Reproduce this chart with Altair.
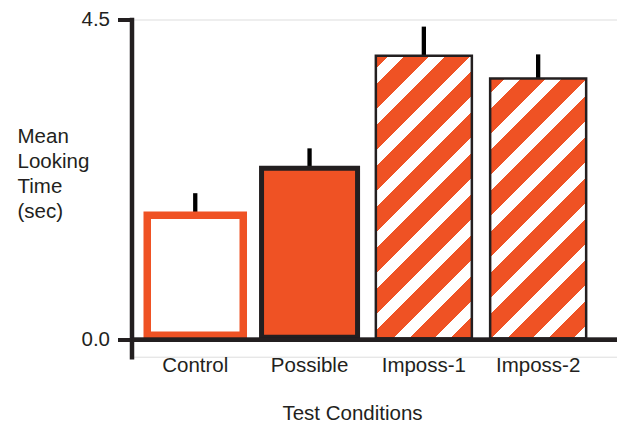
import altair as alt
import pandas as pd

# ---- data ----
categories = ["Control", "Possible", "Imposs-1", "Imposs-2"]
means = [1.75, 2.41, 3.99, 3.67]
err_tops = [2.06, 2.69, 4.40, 4.01]

df = pd.DataFrame({"cond": categories, "mean": means, "err": err_tops})

# ---- styling ----
ORANGE = "#EF5224"
BLACK = "#231F20"
FONT = "Liberation Sans"
FS = 20.5

PLOT_W = 485.5
PLOT_H = 337.2
Y_MIN, Y_MAX = -0.237, 4.5
PXU = PLOT_H / (Y_MAX - Y_MIN)
BAND_W = 96.0


def stripe_gradient(value, y2off, white_start=13.0, white_w=16.0, period=41.0):
    W = BAND_W
    H = value * PXU + y2off
    k = (W + H) / (W * W + H * H)
    total = W + H
    stops = [{"offset": 0.0, "color": ORANGE}]
    c = white_start
    while c < total:
        a = c / total
        b = min((c + white_w) / total, 1.0)
        stops.append({"offset": a, "color": ORANGE})
        stops.append({"offset": a, "color": "white"})
        stops.append({"offset": b, "color": "white"})
        if b < 1.0:
            stops.append({"offset": b, "color": ORANGE})
        c += period
    return alt.LinearGradient(
        gradient="linear", x1=0, y1=0, x2=k * W, y2=k * H, stops=stops
    )


x_scale = alt.Scale(paddingInner=0.16, paddingOuter=0.2038, align=0.338)
y_scale = alt.Scale(domain=[Y_MIN, Y_MAX], nice=False, zero=False)

x_enc = alt.X(
    "cond:N",
    sort=categories,
    scale=x_scale,
    axis=alt.Axis(
        title="Test Conditions",
        domain=False,
        ticks=False,
        tickSize=0,
        labelAngle=0,
        labelAlign="center",
        labelFontSize=FS,
        labelFont=FONT,
        labelColor=BLACK,
        labelBaseline="alphabetic",
        labelPadding=14.8,
        titleFontSize=FS,
        titleFont=FONT,
        titleFontWeight="normal",
        titleColor=BLACK,
        titleBaseline="alphabetic",
        titleAlign="center",
        titleX=220.5,
        titleY=62.5,
    ),
)

y_enc = alt.Y(
    "mean:Q",
    scale=y_scale,
    axis=alt.Axis(
        title=["Mean", "Looking", "Time", "(sec)"],
        values=[0, 4.5],
        format=".1f",
        grid=False,
        domainWidth=4.5,
        domainColor=BLACK,
        domainCap="square",
        tickSize=14,
        tickWidth=4,
        tickColor=BLACK,
        labelFontSize=FS,
        labelFont=FONT,
        labelColor=BLACK,
        labelPadding=8,
        titleAngle=0,
        titleAlign="left",
        titleBaseline="alphabetic",
        titleX=-114.5,
        titleY=123,
        titleLineHeight=25,
        titleFontSize=FS,
        titleFont=FONT,
        titleFontWeight="normal",
        titleColor=BLACK,
    ),
)

base = alt.Chart(df)
x_plain = alt.X("cond:N", sort=categories, scale=x_scale)
y_plain = alt.Y("mean:Q", scale=y_scale)

errbars = base.mark_rule(color="black", strokeWidth=4.3).encode(
    x=x_plain, y=y_plain, y2="err:Q"
)

control = (
    base.transform_filter(alt.datum.cond == "Control")
    .mark_bar(fill="white", stroke=ORANGE, strokeWidth=7.5, y2Offset=-4.5)
    .encode(x=x_enc, y=y_enc, y2=alt.datum(0))
)

possible = (
    base.transform_filter(alt.datum.cond == "Possible")
    .mark_bar(fill=ORANGE, stroke=BLACK, strokeWidth=5, y2Offset=-2.5)
    .encode(x=x_plain, y=y_plain, y2=alt.datum(0))
)

imp1 = (
    base.transform_filter(alt.datum.cond == "Imposs-1")
    .mark_bar(fill=stripe_gradient(means[2], -1.25), stroke=BLACK,
              strokeWidth=2.5, y2Offset=-1.25)
    .encode(x=x_plain, y=y_plain, y2=alt.datum(0))
)

imp2 = (
    base.transform_filter(alt.datum.cond == "Imposs-2")
    .mark_bar(fill=stripe_gradient(means[3], -1.25, white_start=15.0), stroke=BLACK,
              strokeWidth=2.5, y2Offset=-1.25)
    .encode(x=x_plain, y=y_plain, y2=alt.datum(0))
)

baseline = alt.Chart(df).mark_rule(color=BLACK, strokeWidth=4).encode(
    y=alt.Y(datum=0, scale=y_scale)
)

chart = (
    alt.layer(errbars, control, possible, imp1, imp2, baseline)
    .properties(
        width=PLOT_W,
        height=PLOT_H,
        autosize=alt.AutoSizeParams(type="none"),
        padding={"left": 123.5, "top": 11.5, "right": 0, "bottom": 67.3},
    )
    .configure_view(stroke=None)
    .configure(background="white")
)

chart.save("out.html", embed_options={"renderer": "svg", "actions": False})
